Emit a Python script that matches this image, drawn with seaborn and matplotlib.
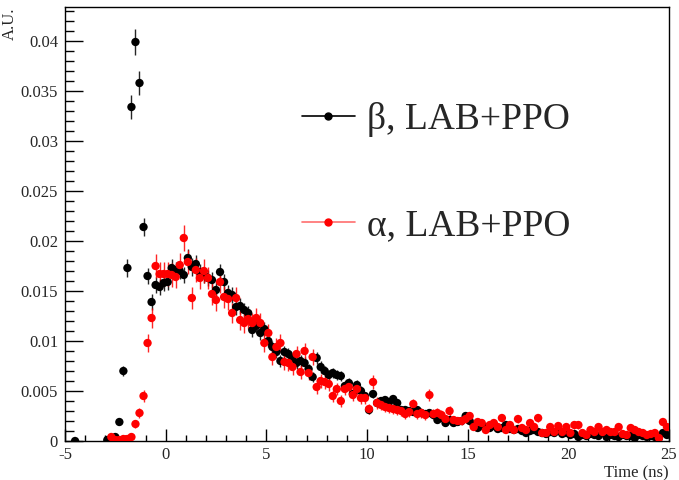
import numpy as np
import pandas as pd
import seaborn as sns
import matplotlib
matplotlib.use("Agg")
import matplotlib.pyplot as plt
from matplotlib.lines import Line2D
from matplotlib.ticker import MultipleLocator, FormatStrFormatter

# bin centres, 0.2 ns bins from -4.5 to 24.9 ns
bin_width = 0.2
t_first = -4.5
n_bins = 148

nan = np.nan

# beta, LAB+PPO
beta = [
    0.0, nan, nan, nan, nan, nan, nan, nan,
    0.0001, 0.0001, 0.0004, 0.0019, 0.0070, 0.0173, 0.0334, 0.0399, 0.0358, 0.0214,
    0.0165, 0.0139, 0.0156, 0.0154, 0.0158, 0.0159, 0.0173, 0.0171, 0.0170, 0.0166,
    0.0183, 0.0174, 0.0177, 0.0169, 0.0166, 0.0163, 0.0161, 0.0151, 0.0169, 0.0159,
    0.0148, 0.0146, 0.0134, 0.0135, 0.0131, 0.0128, 0.0111, 0.0115, 0.0108, 0.0112,
    0.0100, 0.0094, 0.0089, 0.0080, 0.0089, 0.0087, 0.0083, 0.0078, 0.0080, 0.0078,
    0.0072, 0.0064, 0.0083, 0.0074, 0.0070, 0.0066, 0.0068, 0.0066, 0.0065, 0.0055,
    0.0058, 0.0047, 0.0056, 0.0050, 0.0045, 0.0031, 0.0047, 0.0038, 0.0040, 0.0041,
    0.0039, 0.0042, 0.0038, 0.0031, 0.0031, 0.0030, 0.0029, 0.0031, 0.0028, 0.0027,
    0.0028, 0.0026, 0.0021, 0.0023, 0.0018, 0.0021, 0.0018, 0.0019, 0.0020, 0.0025,
    0.0020, 0.0016, 0.0013, 0.0015, 0.0014, 0.0013, 0.0015, 0.0012, 0.0013, 0.0016,
    0.0012, 0.0011, 0.0012, 0.0010, 0.0008, 0.0010, 0.0011, 0.0009, 0.0008, 0.0007,
    0.0009, 0.0008, 0.0010, 0.0007, 0.0008, 0.0006, 0.0007, 0.0004, 0.0006, 0.0005,
    0.0007, 0.0006, 0.0005, 0.0008, 0.0004, 0.0006, 0.0005, 0.0004, 0.0006, 0.0005,
    0.0005, 0.0003, 0.0006, 0.0005, 0.0004, 0.0005, 0.0004, 0.0003, 0.0008, 0.0006,
]

# alpha, LAB+PPO
alpha = [
    nan, nan, nan, nan, nan, nan, nan, nan,
    nan, 0.0004, 0.0001, 0.0001, 0.0002, 0.0002, 0.0004, 0.0017, 0.0028, 0.0045,
    0.0098, 0.0123, 0.0175, 0.0167, 0.0167, 0.0167, 0.0166, 0.0164, 0.0176, 0.0203,
    0.0179, 0.0143, 0.0171, 0.0163, 0.0170, 0.0163, 0.0147, 0.0141, 0.0159, 0.0144,
    0.0142, 0.0128, 0.0143, 0.0121, 0.0118, 0.0122, 0.0118, 0.0123, 0.0118, 0.0098,
    0.0108, 0.0084, 0.0094, 0.0098, 0.0079, 0.0078, 0.0074, 0.0087, 0.0069, 0.0090,
    0.0068, 0.0084, 0.0054, 0.0060, 0.0059, 0.0057, 0.0045, 0.0052, 0.0040, 0.0052,
    0.0054, 0.0046, 0.0052, 0.0043, 0.0043, 0.0032, 0.0059, 0.0038, 0.0036, 0.0034,
    0.0033, 0.0032, 0.0031, 0.0030, 0.0027, 0.0029, 0.0037, 0.0027, 0.0028, 0.0026,
    0.0046, 0.0027, 0.0028, 0.0026, 0.0022, 0.0030, 0.0021, 0.0020, 0.0020, 0.0022,
    0.0025, 0.0014, 0.0019, 0.0018, 0.0011, 0.0016, 0.0018, 0.0014, 0.0023, 0.0011,
    0.0016, 0.0011, 0.0022, 0.0013, 0.0011, 0.0018, 0.0014, 0.0023, 0.0008, 0.0008,
    0.0014, 0.0009, 0.0015, 0.0009, 0.0014, 0.0008, 0.0016, 0.0016, 0.0008, 0.0006,
    0.0011, 0.0009, 0.0014, 0.0009, 0.0011, 0.0009, 0.0009, 0.0014, 0.0007, 0.0006,
    0.0013, 0.0011, 0.0009, 0.0008, 0.0006, 0.0007, 0.0008, 0.0003, 0.0019, 0.0014,
]

# error scale (err = sqrt(k * value), counting statistics)
k_beta = 4.2e-5
k_alpha = 8.0e-5

labels = ["β, LAB+PPO", "α, LAB+PPO"]
colors = ["black", "red"]
legend_line_colors = ["black", "#ff6e6e"]

t = np.round(t_first + bin_width * np.arange(n_bins), 1)
df = pd.DataFrame({"t": np.concatenate([t, t]),
                   "v": np.array(beta + alpha, dtype=float),
                   "sample": [labels[0]] * n_bins + [labels[1]] * n_bins})
df["err"] = np.sqrt(np.where(df["sample"] == labels[0], k_beta, k_alpha) * df["v"])
df = df.dropna()

sns.set_style("ticks")
plt.rcParams['font.family'] = ['Liberation Serif', 'DejaVu Serif']

fig = plt.figure(figsize=(6.79, 4.8), dpi=100)
ax = fig.add_axes([65/679, 1 - 441/480, (669 - 65)/679, (441 - 7)/480])

for lab, col in zip(labels, colors):
    d = df[df["sample"] == lab]
    ax.errorbar(d["t"], d["v"], yerr=d["err"], fmt='none', ecolor=col,
                elinewidth=1.0, capsize=0, alpha=0.85, zorder=2)
    sns.scatterplot(data=d, x="t", y="v", color=col, s=36, edgecolor='none',
                    linewidth=0, ax=ax, zorder=3, legend=False)

ax.set_xlim(-5, 25)
ax.set_ylim(0, 0.0434)
ax.xaxis.set_major_locator(MultipleLocator(5))
ax.xaxis.set_minor_locator(MultipleLocator(1))
ax.yaxis.set_major_locator(MultipleLocator(0.005))
ax.yaxis.set_minor_locator(MultipleLocator(0.001))
ax.yaxis.set_major_formatter(FormatStrFormatter('%g'))
ax.xaxis.set_major_formatter(FormatStrFormatter('%g'))

ax.tick_params(which='both', direction='in', top=False, right=False,
               labelsize=12, width=1, color='black')
ax.tick_params(axis='y', which='major', length=13, pad=5)
ax.tick_params(axis='y', which='minor', length=6.5)
ax.tick_params(axis='x', which='major', length=8.6, pad=4)
ax.tick_params(axis='x', which='minor', length=4.3)
for s in ax.spines.values():
    s.set_linewidth(1)
    s.set_color('black')

ax.set_xlabel("Time (ns)", loc='right', fontsize=12, labelpad=2)
ax.set_ylabel("A.U.", loc='top', fontsize=12, labelpad=2)

handles = [Line2D([], [], color=lc, lw=1.2, marker='o', markersize=5,
                  markerfacecolor=c, markeredgecolor=c)
           for lc, c in zip(legend_line_colors, colors)]
ax.legend(handles, labels, loc='upper left', bbox_to_anchor=(302/679, 1 - 102/480),
          bbox_transform=fig.transFigure, frameon=False, fontsize=27,
          borderpad=0, borderaxespad=0, handlelength=1.41, handletextpad=0.32,
          labelspacing=1.9)

fig.savefig("out.png", dpi=100)
